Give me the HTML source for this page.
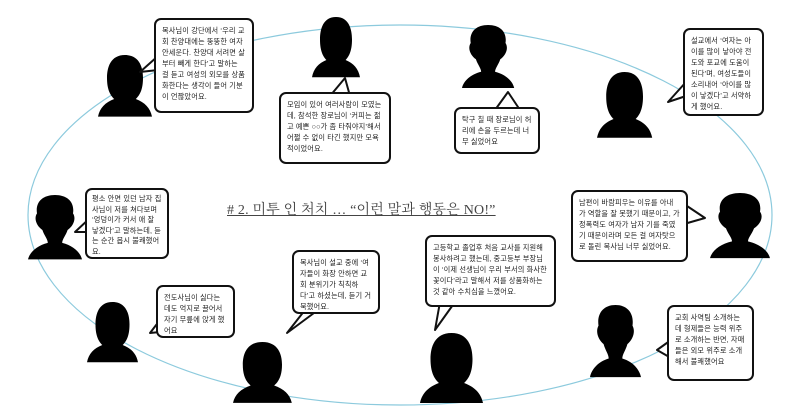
<!DOCTYPE html>
<html><head><meta charset="utf-8">
<style>
html,body{margin:0;padding:0;background:#fff;}
#w{position:relative;width:800px;height:414px;overflow:hidden;background:#fff;}
svg{position:absolute;left:0;top:0;}
.b{position:absolute;box-sizing:border-box;border:2px solid #111;border-radius:7px;background:#fff;
font-family:"Liberation Sans","Noto Sans CJK KR","NanumGothic",sans-serif;font-size:7.2px;line-height:11px;letter-spacing:0.15px;color:#222;padding:5px 6px;word-break:break-all;text-align:left;overflow:hidden;}
.t{position:absolute;left:227px;top:199px;font-family:"Liberation Serif","Noto Serif CJK SC",serif;font-size:14px;color:#444;text-decoration:underline;white-space:nowrap;letter-spacing:0.2px;}
</style></head><body><div id="w">
<svg width="800" height="414" viewBox="0 0 800 414">
<defs>
<path id="s" d="M30 0 C14 0 10 14 10 26 C10 40 14 46 18 50 C8 54 2 60 0 70 L60 70 C58 60 52 54 42 50 C46 46 50 40 50 26 C50 14 46 0 30 0Z"/>
<path id="c" d="M30 0 C16 0 8 8 10 20 C6 26 10 34 16 38 C18 44 22 48 22 52 C10 55 2 62 0 70 L60 70 C58 62 50 55 38 52 C38 48 42 44 44 38 C50 34 54 26 50 20 C52 8 44 0 30 0Z"/>
</defs>
<ellipse cx="400" cy="215" rx="372" ry="190" fill="none" stroke="#8ccadd" stroke-width="1.2"/>
<g fill="#000">
<use href="#s" transform="translate(98,55) scale(0.9,0.88)"/>
<use href="#s" transform="translate(312,17) scale(0.8,0.86)"/>
<use href="#c" transform="translate(462,25) scale(0.87,0.9)"/>
<use href="#s" transform="translate(597,72) scale(0.92,0.94)"/>
<use href="#c" transform="translate(28,195) scale(0.9,0.92)"/>
<use href="#c" transform="translate(710,193) scale(1,0.93)"/>
<use href="#s" transform="translate(87,302) scale(0.85,0.86)"/>
<use href="#s" transform="translate(233,342) scale(0.98,0.87)"/>
<use href="#s" transform="translate(420,333) scale(1.05,1)"/>
<use href="#c" transform="translate(590,305) scale(0.85,1.03)"/>
</g>
<g fill="#fff" stroke="#111" stroke-width="2" stroke-linejoin="round">
<polygon points="158,56 140,72 158,70"/>
<polygon points="330,96 345,78 350,96"/>
<polygon points="495,110 508,92 520,110"/>
<polygon points="686,82 668,102 686,96"/>
<polygon points="90,218 75,232 90,232"/>
<polygon points="684,204 705,218 684,224"/>
<polygon points="160,320 150,333 160,332"/>
<polygon points="305,310 287,333 318,310"/>
<polygon points="440,302 435,330 455,302"/>
<polygon points="671,340 657,350 671,358"/>
</g>
</svg>
<div class="b" style="left:154px;top:18px;width:100px;height:95px;">목사님이 강단에서 ‘우리 교회 찬양대에는 뚱뚱한 여자 안세운다. 찬양대 서려면 살부터 빼게 한다’고 말하는 걸 듣고 여성의 외모를 상품화한다는 생각이 들어 기분이 언짢았어요.</div>
<div class="b" style="left:279px;top:92px;width:112px;height:72px;">모임이 있어 여러사람이 모였는데, 참석한 장로님이 ‘커피는 젊고 예쁜 ○○가 좀 타줘야지’해서 어쩔 수 없이 타긴 했지만 모욕적이었어요.</div>
<div class="b" style="left:454px;top:107px;width:86px;height:47px;">탁구 칠 때 장로님이 허리에 손을 두르는데 너무 싫었어요</div>
<div class="b" style="left:683px;top:28px;width:81px;height:88px;">설교에서 ‘여자는 아이를 많이 낳아야 전도와 포교에 도움이 된다’며, 여성도들이 소리내어 ‘아이를 많이 낳겠다’고 서약하게 했어요.</div>
<div class="b" style="left:85px;top:188px;width:84px;height:71px;padding:4px 5px;line-height:10.6px;">평소 안면 있던 남자 집사님이 저를 쳐다보며 ‘엉덩이가 커서 애 잘 낳겠다’고 말하는데, 듣는 순간 몹시 불쾌했어요.</div>
<div class="t"># 2. 미투 인 처치 … “이런 말과 행동은 NO!”</div>
<div class="b" style="left:571px;top:190px;width:117px;height:72px;">남편이 바람피우는 이유를 아내가 역할을 잘 못했기 때문이고, 가정폭력도 여자가 남자 기를 죽였기 때문이라며 모든 걸 여자탓으로 돌린 목사님 너무 싫었어요.</div>
<div class="b" style="left:156px;top:285px;width:79px;height:53px;">전도사님이 싫다는 데도 억지로 끌어서 자기 무릎에 앉게 했어요</div>
<div class="b" style="left:292px;top:250px;width:88px;height:64px;">목사님이 설교 중에 ‘여자들이 화장 안하면 교회 분위기가 칙칙하다’고 하셨는데, 듣기 거북했어요.</div>
<div class="b" style="left:425px;top:235px;width:131px;height:72px;">고등학교 졸업후 처음 교사를 지원해 봉사하려고 했는데, 중고등부 부장님이 ‘이제 선생님이 우리 부서의 화사한 꽃이다’라고 말해서 저를 상품화하는 것 같아 수치심을 느꼈어요.</div>
<div class="b" style="left:667px;top:305px;width:87px;height:76px;">교회 사역팀 소개하는데 형제들은 능력 위주로 소개하는 반면, 자매들은 외모 위주로 소개해서 불쾌했어요</div>
</div></body></html>
